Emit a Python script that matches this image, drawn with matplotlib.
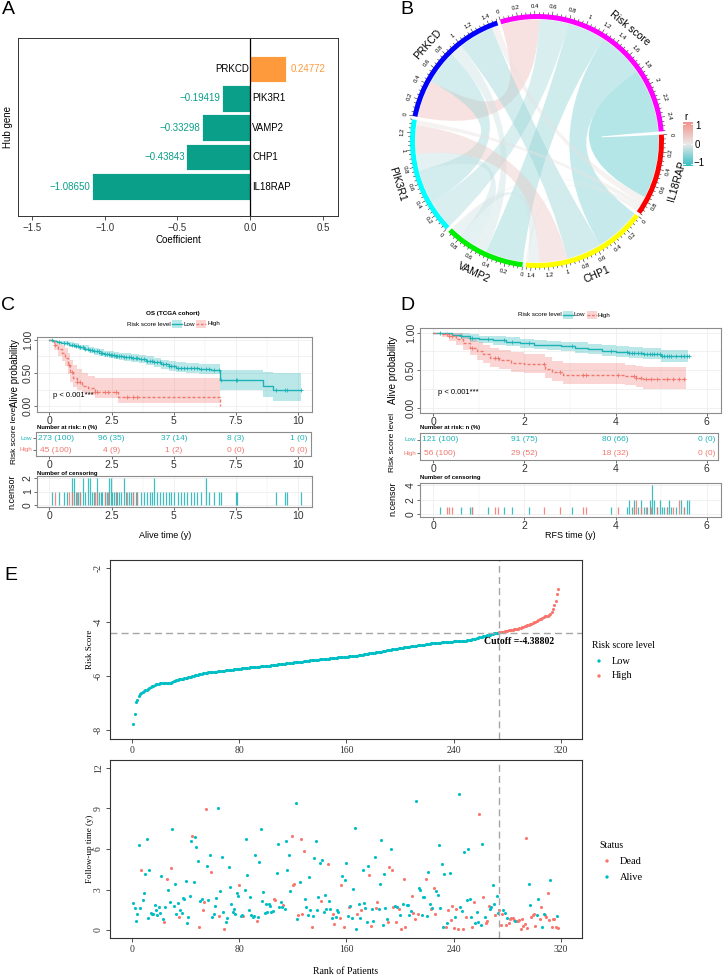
import numpy as np
import matplotlib
matplotlib.use('Agg')
import matplotlib.pyplot as plt
from matplotlib.path import Path
from matplotlib.patches import PathPatch, Wedge, Rectangle
from matplotlib.colors import LinearSegmentedColormap, Normalize

plt.rcParams['font.family'] = ['Liberation Sans', 'DejaVu Sans']
SERIF = ['Liberation Serif', 'DejaVu Serif']

# ---------------- A: hub gene coefficients ----------------
hub_genes = ['IL18RAP', 'CHP1', 'VAMP2', 'PIK3R1', 'PRKCD']
hub_coef = [-1.08650, -0.43843, -0.33298, -0.19419, 0.24772]

# ---------------- B: correlation chord diagram ----------------
chord_sectors = ['Risk score', 'IL18RAP', 'CHP1', 'VAMP2', 'PIK3R1', 'PRKCD']
chord_colors = ['#FF00FF', '#FF0000', '#FFFF00', '#00EE00', '#00FFFF', '#0000FF']
link_from = ['Risk score'] * 5 + ['PRKCD'] * 4 + ['PIK3R1'] * 3 + ['VAMP2'] * 2 + ['CHP1']
link_to = ['PRKCD', 'PIK3R1', 'VAMP2', 'CHP1', 'IL18RAP',
           'PIK3R1', 'VAMP2', 'CHP1', 'IL18RAP',
           'VAMP2', 'CHP1', 'IL18RAP',
           'CHP1', 'IL18RAP',
           'IL18RAP']
link_r = [0.45, -0.35, -0.45, -0.55, -0.76,
          -0.40, -0.15, -0.42, 0.08,
          -0.20, 0.34, 0.06,
          -0.12, -0.02,
          0.03]

# ---------------- C: OS (TCGA cohort) ----------------
c_low_t = [0, 0.15, 0.3, 0.45, 0.6, 0.8, 1.0, 1.2, 1.4, 1.6, 1.8, 2.0, 2.2, 2.4, 2.6, 2.8,
           3.0, 3.3, 3.6, 3.9, 4.2, 4.5, 4.8, 5.1, 5.5, 6.0, 6.5, 6.85, 8.6, 9.0, 10.1]
c_low_s = [1.0, 0.99, 0.97, 0.96, 0.95, 0.93, 0.91, 0.89, 0.87, 0.85, 0.83, 0.81, 0.79, 0.77,
           0.76, 0.75, 0.74, 0.73, 0.71, 0.68, 0.66, 0.63, 0.60, 0.58, 0.57, 0.56, 0.55,
           0.39, 0.30, 0.24, 0.24]
c_low_hi = [1.0, 1.0, 0.99, 0.98, 0.98, 0.97, 0.95, 0.93, 0.92, 0.90, 0.88, 0.86, 0.84, 0.83,
            0.82, 0.81, 0.80, 0.79, 0.77, 0.75, 0.73, 0.70, 0.68, 0.66, 0.65, 0.64, 0.64,
            0.55, 0.52, 0.50, 0.50]
c_low_lo = [1.0, 0.98, 0.95, 0.94, 0.92, 0.90, 0.88, 0.85, 0.83, 0.81, 0.78, 0.76, 0.74, 0.72,
            0.71, 0.70, 0.68, 0.67, 0.65, 0.62, 0.59, 0.56, 0.53, 0.51, 0.50, 0.49, 0.48,
            0.25, 0.14, 0.08, 0.08]
c_high_t = [0, 0.2, 0.35, 0.5, 0.65, 0.75, 0.85, 0.95, 1.1, 1.3, 1.55, 1.85, 2.75, 6.85]
c_high_s = [1.0, 0.93, 0.87, 0.80, 0.73, 0.62, 0.51, 0.42, 0.36, 0.31, 0.27, 0.22, 0.13, 0.0]
c_high_hi = [1.0, 0.99, 0.97, 0.93, 0.88, 0.80, 0.70, 0.62, 0.56, 0.50, 0.46, 0.42, 0.42, 0.42]
c_high_lo = [1.0, 0.85, 0.76, 0.68, 0.60, 0.49, 0.37, 0.29, 0.24, 0.20, 0.16, 0.12, 0.04, 0.04]
c_low_cens = [0.11, 0.40, 0.58, 0.71, 0.91, 0.98, 1.09, 1.14, 1.25, 1.36, 1.45, 1.55, 1.63, 1.72,
              1.81, 1.92, 1.99, 2.06, 2.12, 2.22, 2.30, 2.39, 2.46, 2.53, 2.59, 2.66, 2.73, 2.80,
              2.89, 3.00, 3.10, 3.20, 3.29, 3.37, 3.47, 3.53, 3.67, 3.80, 3.94, 4.05, 4.14, 4.21,
              4.34, 4.45, 4.58, 4.68, 4.81, 4.88, 5.01, 5.15, 5.28, 5.42, 5.55, 5.69, 5.82, 5.95,
              6.09, 6.29, 6.42, 6.63, 6.83, 6.90, 7.50, 7.54, 9.11, 9.45, 9.56, 10.12]
c_low_cens_n = [1, 1, 1, 1, 2, 2, 1, 1, 1, 2, 1, 2, 2, 1,
                1, 2, 1, 1, 1, 1, 1, 2, 2, 1, 1, 1, 1, 1,
                1, 2, 1, 1, 1, 1, 1, 1, 1, 1, 1, 1, 1, 2,
                1, 1, 1, 1, 1, 1, 1, 1, 1, 1, 1, 1, 1, 1,
                1, 2, 1, 1, 1, 1, 1, 1, 1, 1, 1, 1]
c_high_cens = [0.24, 0.78, 0.91, 1.12, 1.25, 1.85, 1.92, 2.22, 2.35, 2.66, 3.13, 3.37, 3.53]
c_high_cens_n = [1] * 13
c_risk_times = [0, 2.5, 5, 7.5, 10]
c_risk_low = ['273 (100)', '96 (35)', '37 (14)', '8 (3)', '1 (0)']
c_risk_high = ['45 (100)', '4 (9)', '1 (2)', '0 (0)', '0 (0)']

# ---------------- D: RFS ----------------
d_low_t = [0, 0.2, 0.4, 0.6, 0.8, 1.0, 1.3, 1.6, 1.9, 2.2, 2.5, 2.8, 3.1, 3.4, 3.7, 4.0, 4.3,
           4.6, 5.0, 5.6]
d_low_s = [1.0, 0.99, 0.97, 0.95, 0.93, 0.91, 0.90, 0.88, 0.86, 0.84, 0.83, 0.82, 0.80, 0.78,
           0.76, 0.74, 0.73, 0.72, 0.69, 0.69]
d_low_hi = [1.0, 1.0, 1.0, 0.99, 0.98, 0.96, 0.95, 0.94, 0.92, 0.90, 0.89, 0.88, 0.87, 0.85,
            0.83, 0.82, 0.81, 0.80, 0.77, 0.77]
d_low_lo = [1.0, 0.97, 0.94, 0.91, 0.88, 0.86, 0.84, 0.82, 0.80, 0.78, 0.77, 0.75, 0.73, 0.71,
            0.69, 0.67, 0.66, 0.65, 0.61, 0.61]
d_high_t = [0, 0.2, 0.35, 0.5, 0.65, 0.8, 0.95, 1.1, 1.25, 1.45, 1.7, 2.0, 2.45, 2.6, 2.85,
            4.2, 4.45, 4.6, 5.55]
d_high_s = [1.0, 0.98, 0.95, 0.91, 0.86, 0.80, 0.75, 0.71, 0.66, 0.63, 0.60, 0.58, 0.52, 0.47,
            0.44, 0.42, 0.39, 0.38, 0.38]
d_high_hi = [1.0, 1.0, 1.0, 0.99, 0.96, 0.92, 0.88, 0.84, 0.80, 0.77, 0.74, 0.72, 0.67, 0.62,
             0.59, 0.57, 0.55, 0.54, 0.54]
d_high_lo = [1.0, 0.94, 0.89, 0.83, 0.77, 0.70, 0.64, 0.59, 0.54, 0.51, 0.48, 0.46, 0.40, 0.35,
             0.32, 0.30, 0.27, 0.25, 0.25]
d_low_cens = [0.15, 0.60, 0.80, 0.85, 1.20, 1.55, 1.72, 2.10, 3.05, 3.90, 4.25, 4.30, 4.36, 4.41,
              4.49, 4.56, 4.63, 4.69, 4.75, 4.80, 4.85, 4.92, 4.97, 5.02, 5.07, 5.12, 5.17, 5.22,
              5.32, 5.43, 5.51, 5.56, 5.62]
d_low_cens_n = [1, 1, 1, 1, 1, 1, 1, 1, 1, 1, 1, 2, 1, 2,
                1, 2, 1, 1, 2, 4, 2, 1, 2, 1, 1, 1, 2, 1,
                1, 2, 1, 2, 2]
d_high_cens = [0.29, 0.35, 0.40, 0.85, 1.35, 1.41, 2.43, 2.79, 3.28, 3.35, 4.05, 4.40, 4.45,
               4.56, 4.66, 4.77, 4.92, 5.12, 5.27, 5.40, 5.50]
d_high_cens_n = [1, 1, 1, 1, 1, 1, 1, 1, 1, 1, 1, 1, 2, 1, 1, 1, 1, 1, 1, 2, 1]
d_risk_times = [0, 2, 4, 6]
d_risk_low = ['121 (100)', '91 (75)', '80 (66)', '0 (0)']
d_risk_high = ['56 (100)', '29 (52)', '18 (32)', '0 (0)']

# ---------------- E: risk score distribution ----------------
risk_low = [
    -7.79, -7.41, -6.95, -6.87, -6.72, -6.66, -6.62, -6.59, -6.56, -6.53,
    -6.50, -6.48, -6.45, -6.42, -6.38, -6.35, -6.33, -6.31, -6.29, -6.28,
    -6.27, -6.26, -6.25, -6.25, -6.25, -6.25, -6.25, -6.24, -6.24, -6.23,
    -6.20, -6.17, -6.15, -6.13, -6.12, -6.11, -6.10, -6.09, -6.08, -6.07,
    -6.06, -6.05, -6.04, -6.02, -6.00, -5.98, -5.97, -5.96, -5.95, -5.93,
    -5.92, -5.91, -5.90, -5.89, -5.88, -5.87, -5.86, -5.85, -5.85, -5.84,
    -5.84, -5.83, -5.83, -5.82, -5.82, -5.81, -5.81, -5.80, -5.80, -5.79,
    -5.78, -5.78, -5.77, -5.77, -5.76, -5.75, -5.75, -5.74, -5.73, -5.72,
    -5.72, -5.71, -5.71, -5.70, -5.70, -5.69, -5.69, -5.68, -5.68, -5.67,
    -5.67, -5.66, -5.66, -5.65, -5.65, -5.64, -5.64, -5.63, -5.63, -5.62,
    -5.62, -5.61, -5.61, -5.60, -5.60, -5.59, -5.58, -5.58, -5.57, -5.56,
    -5.56, -5.55, -5.54, -5.54, -5.53, -5.52, -5.52, -5.51, -5.50, -5.50,
    -5.49, -5.49, -5.48, -5.47, -5.47, -5.46, -5.46, -5.45, -5.44, -5.44,
    -5.43, -5.43, -5.42, -5.42, -5.41, -5.41, -5.40, -5.40, -5.39, -5.38,
    -5.38, -5.37, -5.37, -5.36, -5.36, -5.35, -5.35, -5.34, -5.34, -5.33,
    -5.33, -5.32, -5.32, -5.31, -5.31, -5.30, -5.30, -5.29, -5.29, -5.28,
    -5.28, -5.27, -5.27, -5.26, -5.26, -5.25, -5.25, -5.24, -5.23, -5.22,
    -5.22, -5.21, -5.20, -5.19, -5.18, -5.17, -5.16, -5.15, -5.15, -5.14,
    -5.13, -5.12, -5.11, -5.10, -5.10, -5.09, -5.08, -5.07, -5.06, -5.05,
    -5.04, -5.03, -5.02, -5.01, -5.00, -4.99, -4.99, -4.98, -4.97, -4.96,
    -4.95, -4.95, -4.94, -4.93, -4.92, -4.91, -4.91, -4.90, -4.89, -4.88,
    -4.88, -4.87, -4.86, -4.86, -4.85, -4.84, -4.84, -4.83, -4.82, -4.81,
    -4.81, -4.80, -4.79, -4.79, -4.78, -4.78, -4.77, -4.77, -4.76, -4.76,
    -4.75, -4.75, -4.74, -4.74, -4.73, -4.73, -4.72, -4.72, -4.72, -4.71,
    -4.71, -4.71, -4.70, -4.70, -4.70, -4.70, -4.69, -4.69, -4.69, -4.68,
    -4.68, -4.68, -4.66, -4.64, -4.63, -4.61, -4.60, -4.58, -4.57, -4.56,
    -4.54, -4.53, -4.51, -4.50, -4.49, -4.47, -4.46, -4.44, -4.43, -4.42,
    -4.41, -4.40, -4.39]
risk_high = [
    -4.38, -4.37, -4.36, -4.35, -4.34, -4.33, -4.32, -4.31, -4.30, -4.29,
    -4.28, -4.27, -4.26, -4.25, -4.24, -4.23, -4.21, -4.20, -4.18, -4.16,
    -4.14, -4.12, -4.10, -4.08, -4.06, -4.04, -4.01, -3.99, -3.96, -3.93,
    -3.90, -3.87, -3.84, -3.81, -3.79, -3.77, -3.76, -3.74, -3.70, -3.62,
    -3.50, -3.38, -3.22, -2.95, -2.76]
risk_cutoff = -4.38802

follow_time = [
    2.02, 1.65, 0.69, 1.16, 6.32, 1.65, 4.44, 2.22, 2.72, 4.15,
    6.72, 0.91, 4.42, 1.23, 1.21, 1.16, 1.83, 1.50, 1.09, 1.70,
    1.23, 3.98, 0.84, 0.57, 1.73, 3.78, 2.96, 2.07, 4.62, 7.50,
    1.80, 3.38, 1.19, 1.98, 0.99, 1.48, 1.26, 2.37, 2.27, 3.65,
    0.49, 0.96, 2.54, 6.59, 6.94, 3.53, 6.89, 6.15, 5.14, 0.25,
    2.12, 2.30, 1.51, 2.07, 8.94, 4.72, 2.22, 5.53, 4.27, 0.99,
    1.16, 1.80, 2.40, 9.06, 1.01, 2.91, 5.41, 1.36, 0.07, 0.59,
    0.86, 4.69, 3.19, 1.90, 1.36, 1.53, 1.19, 2.74, 2.52, 3.31,
    1.04, 1.14, 1.01, 2.94, 6.74, 4.07, 1.48, 2.47, 1.09, 0.96,
    1.06, 5.53, 0.69, 0.96, 5.06, 7.48, 2.12, 2.79, 1.23, 1.93,
    1.31, 1.90, 1.75, 1.31, 1.43, 2.30, 2.25, 4.25, 6.35, 1.68,
    2.07, 1.68, 1.88, 1.58, 6.62, 4.47, 5.53, 2.89, 6.96, 3.31,
    3.41, 9.43, 0.79, 1.09, 3.56, 6.74, 1.16, 5.83, 2.30, 1.73,
    1.09, 3.90, 1.48, 0.22, 1.06, 5.33, 6.62, 1.48, 2.44, 4.94,
    2.17, 5.21, 1.36, 2.57, 1.58, 4.91, 2.17, 1.58, 0.91, 1.21,
    0.47, 0.94, 1.46, 1.31, 0.91, 3.36, 4.00, 0.25, 3.70, 4.99,
    1.01, 1.68, 1.75, 0.89, 3.06, 7.53, 0.07, 1.21, 1.90, 0.91,
    1.48, 4.47, 1.98, 1.65, 0.57, 4.72, 4.07, 0.30, 1.56, 0.67,
    5.43, 1.65, 2.07, 1.56, 3.38, 6.64, 0.37, 4.17, 1.63, 0.81,
    0.59, 4.64, 6.02, 4.42, 1.70, 1.80, 0.59, 1.70, 1.58, 1.11,
    0.07, 1.93, 3.80, 0.25, 1.88, 1.85, 1.11, 1.38, 2.54, 1.26,
    0.84, 9.56, 1.16, 3.14, 2.99, 1.09, 2.47, 2.44, 3.75, 1.06,
    4.30, 1.95, 1.56, 1.60, 3.14, 1.16, 2.86, 2.62, 6.30, 1.63,
    4.86, 0.20, 4.17, 0.20, 0.49, 1.48, 4.22, 0.77, 1.75, 0.17,
    0.96, 1.53, 0.10, 10.10, 1.70, 1.41, 0.07, 5.75, 0.96, 2.20,
    6.00, 2.30, 0.99, 0.25, 2.07, 0.49, 1.31, 0.59, 8.57, 0.37,
    6.37, 2.47, 0.96, 0.54, 0.69, 1.78, 1.53, 1.70, 3.36, 1.95,
    1.14, 2.49, 1.28,
    1.46, 0.35, 1.16, 1.51, 1.28, 0.40, 0.89, 0.54, 0.84, 0.88,
    0.89, 0.77, 0.69, 0.67, 0.69, 0.77, 0.07, 0.79, 0.30, 0.44,
    6.81, 0.12, 3.38, 1.83, 0.96, 1.11, 1.21, 0.27, 1.09, 2.30,
    0.79, 1.73, 0.22, 1.21, 1.11, 0.96, 2.74, 0.74, 3.68, 0.20,
    0.81, 0.81, 0.25, 1.06, 0.15]
# D = dead, A = alive, one letter per patient in rank order
follow_status = list(
    'AAAAAADAAA' 'AAAAAAAAAA' 'AAADADAADA' 'AAAADAAAAA' 'AAAADAAAAD'
    'AADDDAAADA' 'AAAADAAADA' 'AAAAAAAAAD' 'AADAAAAAAA' 'AADAAAAAAA'
    'AAAAADDAAA' 'AADAAAAADD' 'DAADADDDAA' 'AAADAAAAAA' 'DAAAADAAAD'
    'DAAADDADAA' 'ADAAAAADAA' 'DAAAAADDAA' 'ADDAAAAAAA' 'DDADDADADA'
    'DADDAAAADD' 'DADAAAAADA' 'AADADDAAAA' 'AAADADADDD' 'ADDAAADADA'
    'AAADDAAADA' 'ADADDDAAAA' 'DAA'
    'DDDAADADDD' 'DDADDDDDDD' 'DDAADDDDAA' 'DDAADDDDAD' 'DDDAD')

# ---------------- figure ----------------
W, H = 723, 977
fig = plt.figure(figsize=(W / 100, H / 100), dpi=100)


def px_axes(l, t, r, b):
    return fig.add_axes([l / W, 1 - b / H, (r - l) / W, (b - t) / H])


# ======== A ========
teal_a = '#0A9F88'
orange_a = '#FF9A3C'
axA = px_axes(18, 38, 338, 216)
ypos = np.arange(1, len(hub_genes) + 1)
bar_cols = [orange_a if c > 0 else teal_a for c in hub_coef]
axA.barh(ypos, hub_coef, height=0.9, color=bar_cols, edgecolor='white', linewidth=0.6)
axA.axvline(0, color='black', lw=0.9)
for y, g, c, col in zip(ypos, hub_genes, hub_coef, bar_cols):
    lab = f'{c:.5f}'.replace('-', '\u2212')
    if c < 0:
        axA.text(0.015, y, g, ha='left', va='center', fontsize=7)
        axA.text(c - 0.012, y, lab, ha='right', va='center', fontsize=7, color=col)
    else:
        axA.text(-0.01, y, g, ha='right', va='center', fontsize=7)
        axA.text(c + 0.03, y, lab, ha='left', va='center', fontsize=7, color=col)
axA.set_xlim(-1.596, 0.603)
axA.set_ylim(0.0, 6.05)
axA.set_yticks([])
axA.set_xticks([-1.5, -1.0, -0.5, 0.0, 0.5], ['\u22121.5', '\u22121.0', '\u22120.5', '0.0', '0.5'])
axA.tick_params(axis='x', labelsize=7, length=3, width=0.6, colors='#333333', pad=2)
for sp in axA.spines.values():
    sp.set_color('#333333')
    sp.set_linewidth(0.7)

# ======== B ========
axB = px_axes(367, 0, 707, 300)
axB.set_xlim(-170, 170)
axB.set_ylim(-159, 141)
axB.axis('off')

tot = {s: 0.0 for s in chord_sectors}
for f, t, r in zip(link_from, link_to, link_r):
    tot[f] += abs(r)
    tot[t] += abs(r)
gap = 1.5
dpu = (360 - gap * len(chord_sectors)) / sum(tot.values())
sec_start = {}
ang = 107.0
for s in chord_sectors:
    sec_start[s] = ang
    ang = ang - tot[s] * dpu - gap

R_out, R_in, R_link = 127, 122, 121.5


def sec_angle(s, v):
    return sec_start[s] - v * dpu


def nice_rot(theta):
    rot = (theta - 90 + 180) % 360 - 180
    if rot > 90 or rot < -90:
        rot = (rot + 360) % 360 - 180
    return rot


cmap_r = LinearSegmentedColormap.from_list('rcol', ['#1FB8BE', '#E8E8E8', '#F2877F'])
norm_r = Normalize(-1, 1)


def arc(a1, a2, r, n=40):
    th = np.radians(np.linspace(a1, a2, n))
    return np.column_stack([r * np.cos(th), r * np.sin(th)])


pos = {s: 0.0 for s in chord_sectors}
for f, t, r in zip(link_from, link_to, link_r):
    w = abs(r)
    a1, a2 = sec_angle(f, pos[f]), sec_angle(f, pos[f] + w)
    b1, b2 = sec_angle(t, pos[t]), sec_angle(t, pos[t] + w)
    pos[f] += w
    pos[t] += w
    A = arc(a1, a2, R_link)
    B = arc(b1, b2, R_link)
    verts = list(A) + [(0, 0), B[0]] + list(B[1:]) + [(0, 0), A[0], A[0]]
    codes = ([Path.MOVETO] + [Path.LINETO] * (len(A) - 1) + [Path.CURVE3, Path.CURVE3]
             + [Path.LINETO] * (len(B) - 1) + [Path.CURVE3, Path.CURVE3, Path.CLOSEPOLY])
    axB.add_patch(PathPatch(Path(verts, codes), facecolor=cmap_r(norm_r(r)), alpha=0.42,
                            edgecolor='none'))

for s, col in zip(chord_sectors, chord_colors):
    st = sec_start[s]
    en = sec_angle(s, tot[s])
    axB.add_patch(Wedge((0, 0), R_out, en, st, width=R_out - R_in, facecolor=col,
                        edgecolor='none'))
    # ticks
    for v in np.arange(0, tot[s] + 1e-6, 0.05):
        th = np.radians(sec_angle(s, v))
        major = abs(v / 0.2 - round(v / 0.2)) < 1e-6
        ln = 3.0 if major else 1.6
        axB.plot([R_out * np.cos(th), (R_out + ln) * np.cos(th)],
                 [R_out * np.sin(th), (R_out + ln) * np.sin(th)], color='black', lw=0.35)
        if major:
            a = sec_angle(s, v)
            axB.text(134.5 * np.cos(th), 134.5 * np.sin(th), f'{round(v, 1):g}',
                     fontsize=4.3, ha='center', va='center', rotation=nice_rot(a),
                     rotation_mode='anchor')
    mid = (st + en) / 2
    if s == 'Risk score':
        mid = st - 0.55 * (st - en)
    th = np.radians(mid)
    axB.text(146 * np.cos(th), 146 * np.sin(th), s, fontsize=7.5, ha='center', va='center',
             rotation=nice_rot(mid), rotation_mode='anchor')

axCB = px_axes(683, 122, 693, 166)
axCB.imshow(np.linspace(1, -1, 100).reshape(-1, 1), cmap=cmap_r, norm=norm_r, aspect='auto',
            extent=[0, 1, -1, 1], alpha=0.9)
for yv in (-0.92, 0, 0.92):
    axCB.plot([0, 0.2], [yv, yv], color='white', lw=0.6)
    axCB.plot([0.8, 1], [yv, yv], color='white', lw=0.6)
axCB.set_xlim(0, 1)
axCB.set_ylim(-1, 1)
axCB.axis('off')

# ======== C and D (Kaplan-Meier) ========
teal = '#1DB3B6'
red = '#F0776E'


def style_km(ax, xt, xlabels, yt=None, ylabels=None, minor_x=None, minor_y=None, grid=True):
    ax.set_xticks(xt, xlabels)
    if yt is not None:
        ax.set_yticks(yt, ylabels)
    ax.tick_params(labelsize=7.5, length=2, width=0.5, colors='#333333', pad=1)
    for lab in ax.get_yticklabels():
        lab.set_rotation(90)
        lab.set_va('center')
    if grid:
        for xv in list(xt) + list(minor_x or []):
            ax.axvline(xv, color='#EBEBEB', lw=0.5 if xv in xt else 0.3, zorder=0)
        for yv in list(yt or []) + list(minor_y or []):
            ax.axhline(yv, color='#EBEBEB', lw=0.5, zorder=0)
    for sp in ax.spines.values():
        sp.set_color('#8C8C8C')
        sp.set_linewidth(0.8)


def step_at(ts, ss, q):
    idx = np.searchsorted(ts, q, side='right') - 1
    return np.array(ss)[idx]


def km(ax, lt, ls, lhi, llo, lc, ht, hs, hhi, hlo, hc):
    ax.fill_between(lt, llo, lhi, step='post', color=teal, alpha=0.3, lw=0)
    ax.fill_between(ht, hlo, hhi, step='post', color=red, alpha=0.3, lw=0)
    ax.step(lt, ls, where='post', color=teal, lw=1.0)
    ax.step(ht, hs, where='post', color=red, lw=1.0, ls=(0, (2.2, 1.4)))
    ax.plot(lc, step_at(lt, ls, lc), '+', color=teal, ms=3, mew=0.6)
    ax.plot(hc, step_at(ht, hs, hc), '+', color=red, ms=3, mew=0.6)


def risk_table(ax, times, low, high, first_shift):
    for i, (tt, a, b) in enumerate(zip(times, low, high)):
        x = tt + (first_shift if i == 0 else 0)
        ax.text(x, 2, a, ha='center', va='center', fontsize=6, color=teal)
        ax.text(x, 1, b, ha='center', va='center', fontsize=6, color=red)
    ax.set_ylim(0.5, 2.5)


def row_labels(ax):
    ax.set_yticks([2, 1], ['Low', 'High'])
    for lab, col in zip(ax.get_yticklabels(), [teal, red]):
        lab.set_rotation(0)
        lab.set_fontsize(4.5)
        lab.set_color(col)
        lab.set_va('center')


def censor_plot(ax, lc, ln, hc, hn):
    ax.vlines(lc, 0, ln, color=teal, lw=0.9, alpha=0.85)
    ax.vlines(hc, 0, hn, color=red, lw=0.9, alpha=0.85)


# ---- C ----
c_x0, c_ppu = 49.3, 24.9
axC = px_axes(37, 337, 312, 412)
km(axC, c_low_t, c_low_s, c_low_hi, c_low_lo, c_low_cens,
   c_high_t, c_high_s, c_high_hi, c_high_lo, c_high_cens)
axC.set_xlim((37 - c_x0) / c_ppu, (312 - c_x0) / c_ppu)
axC.set_ylim(-0.09, 1.045)
style_km(axC, [0, 2.5, 5, 7.5, 10], ['0', '2.5', '5', '7.5', '10'],
         [0, 0.5, 1.0], ['0.00', '0.50', '1.00'], [1.25, 3.75, 6.25, 8.75], [0.25, 0.75])
axC.text(0.15, 0.16, 'p < 0.001***', fontsize=5.5, ha='left', va='center')

axCt = px_axes(36, 432, 311, 456)
risk_table(axCt, c_risk_times, c_risk_low, c_risk_high, 0.25)
axCt.set_xlim((36 - c_x0) / c_ppu, (311 - c_x0) / c_ppu)
style_km(axCt, [0, 2.5, 5, 7.5, 10], ['0', '2.5', '5', '7.5', '10'], grid=False)
row_labels(axCt)

axCc = px_axes(37, 476, 312, 507)
censor_plot(axCc, c_low_cens, c_low_cens_n, c_high_cens, c_high_cens_n)
axCc.set_xlim((37 - c_x0) / c_ppu, (312 - c_x0) / c_ppu)
axCc.set_ylim(-0.15, 2.15)
style_km(axCc, [0, 2.5, 5, 7.5, 10], ['0', '2.5', '5', '7.5', '10'],
         [0, 1, 2], ['0', '1', '2'], [1.25, 3.75, 6.25, 8.75])

# ---- D ----
d_x0, d_ppu = 433.3, 45.56
axD = px_axes(420, 328, 721, 413)
km(axD, d_low_t, d_low_s, d_low_hi, d_low_lo, d_low_cens,
   d_high_t, d_high_s, d_high_hi, d_high_lo, d_high_cens)
axD.set_xlim((420 - d_x0) / d_ppu, (721 - d_x0) / d_ppu)
axD.set_ylim(-0.071, 1.063)
style_km(axD, [0, 2, 4, 6], ['0', '2', '4', '6'],
         [0, 0.5, 1.0], ['0.00', '0.50', '1.00'], [1, 3, 5], [0.25, 0.75])
axD.text(0.1, 0.2, 'p < 0.001***', fontsize=5.5, ha='left', va='center')

axDt = px_axes(420, 433, 718, 460)
risk_table(axDt, d_risk_times, d_risk_low, d_risk_high, 0.14)
axDt.set_xlim((420 - d_x0) / d_ppu, (718 - d_x0) / d_ppu)
style_km(axDt, [0, 2, 4, 6], ['0', '2', '4', '6'], grid=False)
row_labels(axDt)

axDc = px_axes(420, 483, 721, 517)
censor_plot(axDc, d_low_cens, d_low_cens_n, d_high_cens, d_high_cens_n)
axDc.set_xlim((420 - d_x0) / d_ppu, (721 - d_x0) / d_ppu)
axDc.set_ylim(-0.4, 4.28)
style_km(axDc, [0, 2, 4, 6], ['0', '2', '4', '6'], [0, 2, 4], ['0', '2', '4'], [1, 3, 5])

# ======== E ========
teal_e = '#00BFC4'
red_e = '#F8766D'
e_xlim = (-16.4, 335.7)


def style_e(ax, yt):
    ax.set_xlim(*e_xlim)
    ax.set_xticks([0, 80, 160, 240, 320], ['0', '80', '160', '240', '320'],
                  fontfamily=SERIF, fontsize=7)
    ax.set_yticks(yt, [f'{v:g}' for v in yt], fontfamily=SERIF, fontsize=7, rotation=90,
                  va='center')
    ax.tick_params(length=3, width=0.6, colors='#333333', pad=2)
    for sp in ax.spines.values():
        sp.set_color('#333333')
        sp.set_linewidth(0.8)


n_low = len(risk_low)
rank_low = np.arange(1, n_low + 1)
rank_high = np.arange(n_low + 1, n_low + len(risk_high) + 1)
cut_rank = n_low + 1

axE1 = px_axes(110, 560, 582, 739)
axE1.scatter(rank_low, risk_low, s=5, color=teal_e, lw=0)
axE1.scatter(rank_high, risk_high, s=5, color=red_e, lw=0)
axE1.axvline(cut_rank, color='#A6A6A6', lw=1, ls=(0, (5, 3)))
axE1.axhline(risk_cutoff, color='#A6A6A6', lw=1, ls=(0, (5, 3)))
axE1.text(289, -4.73, f'Cutoff ={risk_cutoff:.5f}', fontfamily=SERIF, fontweight='bold',
          fontsize=7, ha='center', va='center')
axE1.set_ylim(-8.33, -1.70)
style_e(axE1, [-8, -6, -4, -2])

ranks_all = np.arange(1, len(follow_time) + 1)
ft = np.array(follow_time)
dead = np.array([c == 'D' for c in follow_status])
axE2 = px_axes(110, 760, 582, 938)
axE2.scatter(ranks_all[dead], ft[dead], s=5, color=red_e, lw=0)
axE2.scatter(ranks_all[~dead], ft[~dead], s=5, color=teal_e, lw=0)
axE2.axvline(cut_rank, color='#A6A6A6', lw=1, ls=(0, (5, 3)))
axE2.set_ylim(-0.59, 12.59)
style_e(axE2, [0, 3, 6, 9, 12])

# ======== overlay text ========
ov = fig.add_axes([0, 0, 1, 1])
ov.set_xlim(0, W)
ov.set_ylim(H, 0)
ov.axis('off')
ov.patch.set_alpha(0)

for lab, x, y in [('A', 8, 9), ('B', 407, 9), ('C', 8, 305), ('D', 407, 305), ('E', 11, 576)]:
    ov.text(x, y, lab, fontsize=14, ha='center', va='center')

ov.text(8, 127, 'Hub gene', rotation=90, fontsize=7, ha='center', va='center')
ov.text(178, 240, 'Coefficient', fontsize=7, ha='center', va='center')

# colour bar labels
ov.text(684, 117, 'r', fontsize=7, ha='left', va='center')
ov.text(695, 126, '1', fontsize=7, ha='left', va='center')
ov.text(695, 145, '0', fontsize=7, ha='left', va='center')
ov.text(693, 163, '\u22121', fontsize=7, ha='left', va='center')

# C texts
ov.text(173, 313, 'OS (TCGA cohort)', fontsize=4.5, fontweight='bold', ha='center', va='center')


def km_legend(x0, y):
    ov.text(x0, y, 'Risk score level', fontsize=4.5, ha='left', va='center')
    xa = x0 + 45
    ov.add_patch(Rectangle((xa, y - 4), 10, 8, facecolor=teal, alpha=0.3, lw=0))
    ov.plot([xa, xa + 10], [y, y], color=teal, lw=1)
    ov.text(xa + 11, y, 'Low', fontsize=4.5, ha='left', va='center')
    xb = xa + 24
    ov.add_patch(Rectangle((xb, y - 4), 10, 8, facecolor=red, alpha=0.3, lw=0))
    ov.plot([xb, xb + 10], [y, y], color=red, lw=1, ls=(0, (2, 1.2)))
    ov.text(xb + 11, y, 'High', fontsize=4.5, ha='left', va='center')


km_legend(127, 324)
km_legend(518, 315)

ov.text(15, 373, 'Alive probability', rotation=90, fontsize=7, ha='center', va='center')
ov.text(15, 434, 'Risk score level', rotation=90, fontsize=6, ha='center', va='center')
ov.text(12, 492, 'n.censor', rotation=90, fontsize=6.5, ha='center', va='center')
ov.text(37, 427, 'Number at risk: n (%)', fontsize=4.3, fontweight='bold', ha='left', va='center')
ov.text(37, 473, 'Number of censoring', fontsize=4.3, fontweight='bold', ha='left', va='center')
ov.text(165, 536, 'Alive time (y)', fontsize=6.5, ha='center', va='center')

ov.text(393, 370, 'Alive probability', rotation=90, fontsize=7, ha='center', va='center')
ov.text(393, 442, 'Risk score level', rotation=90, fontsize=6, ha='center', va='center')
ov.text(393, 499, 'n.censor', rotation=90, fontsize=6.5, ha='center', va='center')
ov.text(420, 428, 'Number at risk: n (%)', fontsize=4.3, fontweight='bold', ha='left', va='center')
ov.text(420, 478, 'Number of censoring', fontsize=4.3, fontweight='bold', ha='left', va='center')
ov.text(570, 535, 'RFS time (y)', fontsize=6.5, ha='center', va='center')

# E texts
ov.text(90, 649, 'Risk Score', rotation=90, fontsize=6.5, fontfamily=SERIF, ha='center', va='center')
ov.text(90, 849, 'Follow-up time (y)', rotation=90, fontsize=6.5, fontfamily=SERIF,
        ha='center', va='center')
ov.text(346, 972, 'Rank of Patients', fontsize=7, fontfamily=SERIF, ha='center', va='center')

ov.text(592, 645, 'Risk score level', fontsize=7, fontfamily=SERIF, ha='left', va='center')
ov.scatter([599, 599], [661, 676], s=6, color=[teal_e, red_e], lw=0)
ov.text(612, 661, 'Low', fontsize=7.5, fontfamily=SERIF, ha='left', va='center')
ov.text(612, 676, 'High', fontsize=7.5, fontfamily=SERIF, ha='left', va='center')

ov.text(599, 845, 'Status', fontsize=7, fontfamily=SERIF, ha='left', va='center')
ov.scatter([607, 607], [861, 877], s=6, color=[red_e, teal_e], lw=0)
ov.text(620, 861, 'Dead', fontsize=7.5, fontfamily=SERIF, ha='left', va='center')
ov.text(620, 877, 'Alive', fontsize=7.5, fontfamily=SERIF, ha='left', va='center')

fig.savefig('out.png', dpi=100)
